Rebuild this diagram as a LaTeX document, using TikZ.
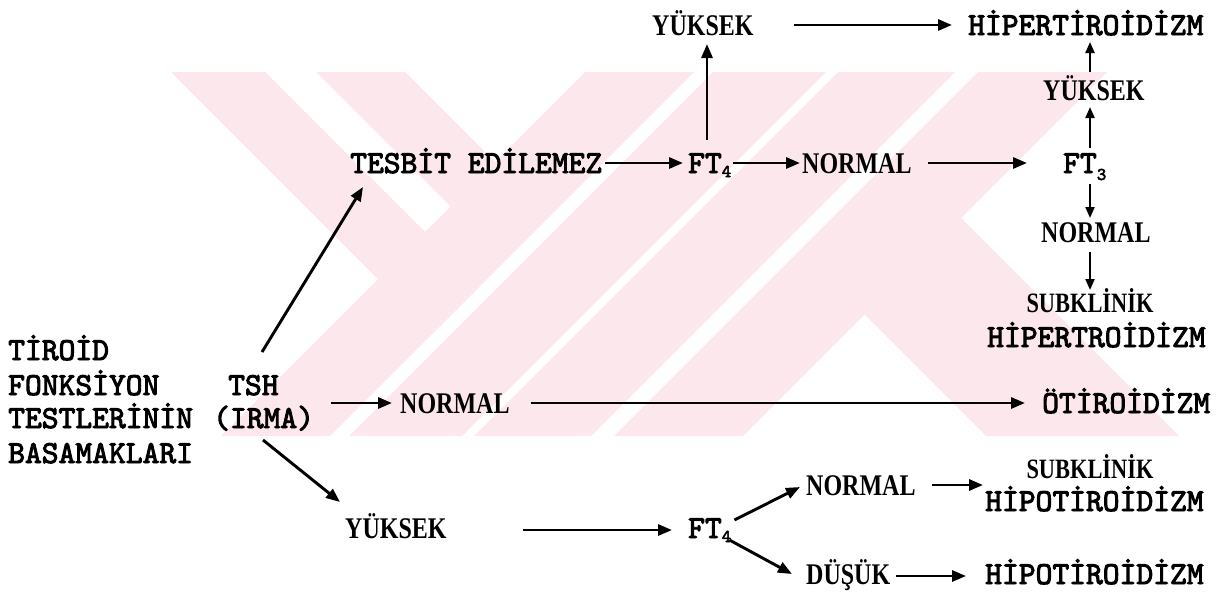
\documentclass[tikz,border=0pt]{standalone}
\usepackage{fontspec}
\setmainfont{Liberation Serif}[FakeStretch=0.8]
\newfontfamily\tw{lmmono10-regular.otf}[FakeBold=3]
\usetikzlibrary{arrows.meta}
\definecolor{wm}{RGB}{252,232,236}
\newcommand\subd[2]{\raisebox{-#2pt}{\fontsize{18}{18}\selectfont #1}}
\tikzset{
 mono/.style={inner sep=0pt, anchor=base west, font=\tw\fontsize{32}{36}\selectfont},
 ser/.style={inner sep=0pt, anchor=base west, font=\bfseries\fontsize{30}{34}\selectfont},
 serc/.style={inner sep=0pt, anchor=base, font=\bfseries\fontsize{28}{34}\selectfont},
 arr/.style={line width=2.9pt, -{Triangle[length=14pt,width=11pt]}},
 varr/.style={line width=2.2pt, -{Triangle[length=11pt,width=9pt]}},
}
\begin{document}
\begin{tikzpicture}[x=1pt,y=-1pt]
\useasboundingbox (0,0) rectangle (1222,592);
% watermark
\begin{scope}
 \clip (172,72) rectangle (1193,435);
 \fill[wm] (99,0)--(193,0)--(479.5,286.5)--(432.5,333.5)--cycle;
 \fill[wm] (244,0)--(333,0)--(495,162)--(450.5,206.5)--cycle;
 \fill[wm] (657,0)--(766,0)--(166,600)--(57,600)--cycle;
 \fill[wm] (785,0)--(898,0)--(298,600)--(185,600)--cycle;
 \fill[wm] (910,0)--(1027,0)--(427,600)--(310,600)--cycle;
 \fill[wm] (1050,0)--(1179,0)--(579,600)--(450,600)--cycle;
 \fill[wm] (961,218)--(1343,600)--(1150,600)--(864.5,314.5)--cycle;
\end{scope}
% left label
\node[mono] (tiroid) at (8,360) {TİROİD};
\node[mono] (fonk) at (8,395) {FONKSİYON};
\node[mono] (testl) at (8,428) {TESTLERİNİN};
\node[mono] (basam) at (8,463) {BASAMAKLARI};
\node[mono] (tsh) at (228,395) {TSH};
\node[mono] (irma) at (213,428) {(IRMA)};
% top branch
\node[mono] (tesbit) at (350,173) {TESBİT EDİLEMEZ};
\node[mono] (ft4a) at (688,173) {FT\subd{4}{4}};
\node[ser] (norm1) at (802,173) {NORMAL};
\node[mono] (ft3) at (1063,173) {FT\subd{3}{7}};
\node[ser] (yuk1) at (652,35) {YÜKSEK};
\node[mono] (hiper) at (968,35) {HİPERTİROİDİZM};
\node[ser] (yuk2) at (1043,100) {YÜKSEK};
\node[ser] (norm2) at (1041,242) {NORMAL};
\node[serc] (subk1) at (1090,312) {SUBKLİNİK};
\node[mono] (hipert) at (987,347) {HİPERTROİDİZM};
% middle branch
\node[ser] (norm3) at (400,413) {NORMAL};
\node[mono] (oti) at (1042,413) {ÖTİROİDİZM};
% bottom branch
\node[ser] (yuk3) at (345,538) {YÜKSEK};
\node[mono] (ft4b) at (688,538) {FT\subd{4}{4}};
\node[ser] (norm4) at (806,495) {NORMAL};
\node[serc] (subk2) at (1090,478) {SUBKLİNİK};
\node[mono] (hipo1) at (985,511) {HİPOTİROİDİZM};
\node[ser] (dusuk) at (806,584) {DÜŞÜK};
\node[mono] (hipo2) at (985,584) {HİPOTİROİDİZM};
% connectors
\draw[arr] ([shift={(34,-43)}]tsh.base west) -- ([shift={(13,14)}]tesbit.base west);
\draw[arr] ([shift={(3,-10)}]tesbit.base east) -- ([shift={(-5,-10)}]ft4a.base west);
\draw[arr] ([shift={(2,-10)}]ft4a.base east) -- ([shift={(-2,-10)}]norm1.base west);
\draw[arr] ([shift={(16,-10)}]norm1.base east) -- ([shift={(-36,-10)}]ft3.base west);
\draw[arr] ([shift={(19,-33)}]ft4a.base west) -- ([shift={(55,9)}]yuk1.base west);
\draw[arr] ([shift={(40,-10)}]yuk1.base east) -- ([shift={(-16,-10)}]hiper.base west);
\draw[varr] ([shift={(27,-25)}]ft3.base west) -- ([shift={(47,7)}]yuk2.base west);
\draw[varr] ([shift={(47,-28)}]yuk2.base west) -- ([shift={(122,7)}]hiper.base west);
\draw[varr] ([shift={(27,11)}]ft3.base west) -- ([shift={(49,-24)}]norm2.base west);
\draw[varr] ([shift={(49,10)}]norm2.base west) -- ([shift={(0,-22)}]subk1.base);
\draw[arr] ([shift={(17,-25)}]irma.base east) -- ([shift={(-8,-10)}]norm3.base west);
\draw[arr] ([shift={(21,-10)}]norm3.base east) -- ([shift={(-17,-10)}]oti.base west);
\draw[arr] ([shift={(50,12)}]irma.base west) -- ([shift={(-5,-36)}]yuk3.base west);
\draw[arr] ([shift={(76,-8)}]yuk3.base east) -- ([shift={(-16,-8)}]ft4b.base west);
\draw[arr] ([shift={(3,-18)}]ft4b.base east) -- ([shift={(-6,-8)}]norm4.base west);
\draw[arr] ([shift={(-2,2)}]ft4b.base east) -- ([shift={(-14,-10)}]dusuk.base west);
\draw[arr] ([shift={(16,-10)}]norm4.base east) -- ([shift={(-2,-26)}]hipo1.base west);
\draw[arr] ([shift={(6,-8)}]dusuk.base east) -- ([shift={(-19,-8)}]hipo2.base west);
\end{tikzpicture}
\end{document}
